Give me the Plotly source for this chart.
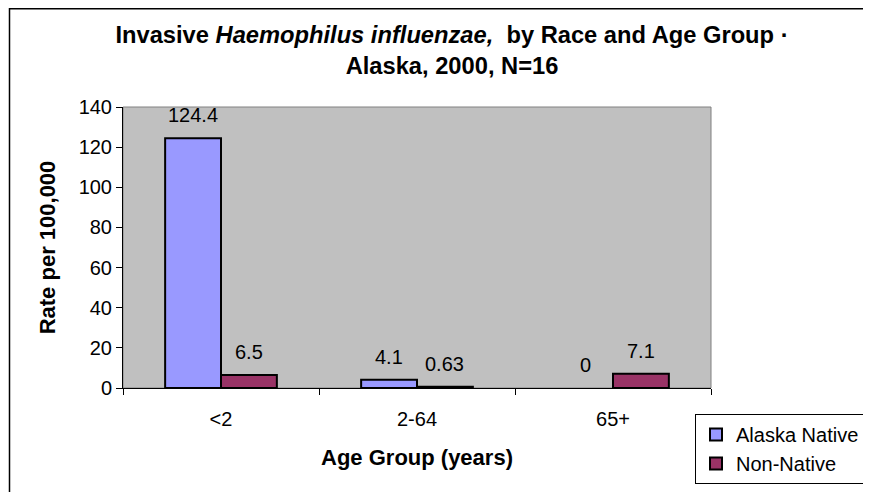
import plotly.graph_objects as go

categories = ["<2", "2-64", "65+"]
alaska_native = [124.4, 4.1, 0]
non_native = [6.5, 0.63, 7.1]
alaska_labels = ["124.4", "4.1", "0"]
non_native_labels = ["6.5", "0.63", "7.1"]
y_ticks = [0, 20, 40, 60, 80, 100, 120, 140]

FONT = "Liberation Sans, Arial, sans-serif"
# page has an 8px body margin; figure coords = page coords - 8
W, H = 863, 484
L, R, T, B = 115, 160, 99, 104
PW, PH = W - L - R, H - T - B
BARGAP = 0.43


def outline(values):
    # a zero-height bar shows no outline in the original
    return [2 if v > 0 else 0 for v in values]


fig = go.Figure()
fig.add_trace(go.Bar(
    name="Alaska Native", x=categories, y=alaska_native,
    marker=dict(color="#9999FF", line=dict(color="black", width=outline(alaska_native))),
))
fig.add_trace(go.Bar(
    name="Non-Native", x=categories, y=non_native,
    marker=dict(color="#993366", line=dict(color="black", width=outline(non_native))),
))

# data labels, placed over each bar through the data axes
bar_px = PW / len(categories) * (1 - BARGAP) / 2
annotations = []
for labels, values, sign in ((alaska_labels, alaska_native, -1), (non_native_labels, non_native, 1)):
    for cat, val, lab in zip(categories, values, labels):
        annotations.append(dict(
            x=cat, y=val, xref="x", yref="y", text=lab, showarrow=False,
            xshift=sign * bar_px / 2, yshift=23, yanchor="middle",
            font=dict(size=20, color="black", family=FONT),
        ))

def px_x(p):
    return (p - L) / PW

def px_y(p):
    return (H - B - p) / PH

fig.update_layout(
    width=W, height=H,
    margin=dict(l=L, r=R, t=T, b=B, autoexpand=False),
    paper_bgcolor="white", plot_bgcolor="#C0C0C0",
    font=dict(family=FONT, size=20, color="black"),
    barmode="group", bargap=BARGAP, bargroupgap=0,
    title=dict(
        text="<b>Invasive <i>Haemophilus influenzae,</i>  by Race and Age Group ·<br>Alaska, 2000, N=16</b>",
        x=444 / W, xanchor="center", y=1 - 35 / H, yanchor="top",
        font=dict(size=23.7, family=FONT, color="black"),
    ),
    xaxis=dict(
        title=dict(text="<b>Age Group (years)</b>", font=dict(size=22), standoff=20),
        showline=True, linecolor="black", linewidth=1,
        ticks="outside", ticklen=6, tickcolor="black", tickson="boundaries",
        ticklabelstandoff=13,
        showgrid=False, tickfont=dict(size=20),
    ),
    yaxis=dict(
        title=dict(text="<b>Rate per 100,000</b>", font=dict(size=22), standoff=16),
        range=[0, 140], tickvals=y_ticks,
        showline=True, linecolor="black", linewidth=1,
        ticks="outside", ticklen=6, tickcolor="black",
        showgrid=False, zeroline=False, tickfont=dict(size=20),
    ),
    legend=dict(
        x=px_x(687), y=px_y(406), xanchor="left", yanchor="top",
        bordercolor="black", borderwidth=1, bgcolor="white",
        font=dict(size=20), itemwidth=30, tracegroupgap=0,
    ),
    annotations=annotations,
    shapes=[
        dict(type="rect", xref="paper", yref="paper", x0=0, x1=1, y0=0, y1=1,
             line=dict(color="#808080", width=1), layer="below"),
        dict(type="rect", xref="paper", yref="paper",
             x0=px_x(1.5), x1=px_x(880), y0=px_y(500), y1=px_y(0.75),
             line=dict(color="black", width=1.5)),
    ],
)

fig.write_html("out.html")
